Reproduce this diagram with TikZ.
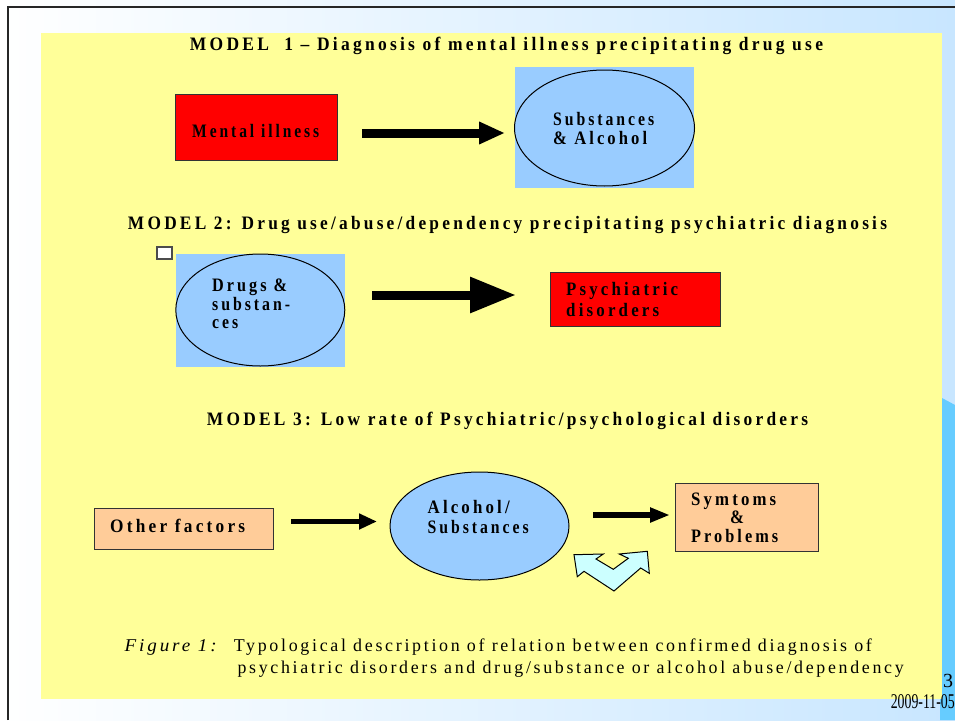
\documentclass[tikz,border=0pt]{standalone}
\usepackage{fontspec}
\usepackage{graphicx}
\setmainfont{Liberation Serif}
\newfontfamily\bt[FakeStretch=0.75,LetterSpace=14]{Liberation Serif}
\newfontfamily\ct[FakeStretch=0.8,LetterSpace=12]{Liberation Serif}
\newfontfamily\dt[FakeStretch=0.75]{Liberation Serif}
\usetikzlibrary{arrows.meta,shapes.geometric}
\newcommand\fitw[2]{\resizebox{#1pt}{\height}{#2}}
\definecolor{bgblue}{RGB}{200,230,255}
\definecolor{deepblue}{RGB}{102,204,255}
\definecolor{panel}{RGB}{255,255,153}
\definecolor{skyfill}{RGB}{153,204,255}
\definecolor{peach}{RGB}{255,204,153}
\definecolor{cyanfill}{RGB}{204,255,255}
\definecolor{redfill}{RGB}{255,0,0}
\tikzset{
  lbl/.style={anchor=base west, inner sep=0pt, font=\bt\bfseries\fontsize{19}{22}\selectfont},
  ttl/.style={anchor=base, inner sep=0pt, font=\bt\bfseries\fontsize{19}{22}\selectfont},
  captxt/.style={anchor=base west, inner sep=0pt, font=\ct\fontsize{18}{21}\selectfont},
  boxshape/.style={draw=black!80, line width=1pt, inner sep=0pt},
  ellshape/.style={ellipse, draw=black, line width=1pt, fill=skyfill, inner sep=0pt},
  blockarrow/.style n args={3}{draw=black, line width=#1pt, -{Triangle[length=#2pt,width=#3pt]}},
}
\begin{document}
\begin{tikzpicture}[x=1pt,y=-1pt]
\useasboundingbox (0,0) rectangle (955,720);
% background
\shade[left color=white, right color=bgblue] (0,0) rectangle (955,720);
\fill[deepblue] (942,398) -- (955,405) -- (955,720) -- (940,720) -- cycle;
\fill[panel] (41,33) rectangle (942,699);
\draw[line width=2pt, black!85] (8,720) -- (8,7) -- (955,7);

% titles
\node[ttl] (title1) at (506.5,50) {\fitw{633}{MODEL\ \ 1 – Diagnosis of mental illness precipitating drug use}};
\node[ttl] (title2) at (507.5,229) {\fitw{759}{MODEL 2: Drug use/abuse/dependency precipitating psychiatric diagnosis}};
\node[ttl] (title3) at (507.5,425) {\fitw{601}{MODEL 3: Low rate of Psychiatric/psychological disorders}};

% model 1
\node[boxshape, fill=redfill, minimum width=162pt, minimum height=66pt] (mental) at (256.6,127) {};
\node[lbl] (tmental) at (192,137) {\fitw{127}{Mental illness}};
\fill[skyfill] (515,67) rectangle (694,188);
\node[ellshape, minimum width=180pt, minimum height=116pt] (subs) at (604.5,128) {};
\node[lbl] (tsubs1) at (553,125) {\fitw{101}{Substances}};
\node[lbl] (tsubs2) at (553,144) {\fitw{94}{\& Alcohol}};
\coordinate (a1s) at (362,133);
\coordinate (a1e) at (505,133);
\draw[blockarrow={9}{26}{21}] (a1s) -- (a1e);

% model 2
\node[draw=black!70, line width=1.2pt, fill=white, minimum width=15pt, minimum height=12pt, inner sep=0pt] (sq) at (164.5,253) {};
\fill[skyfill] (176,254) rectangle (345,367);
\node[ellshape, minimum width=169pt, minimum height=112pt] (drugs) at (260.3,310) {};
\node[lbl] (tdrug1) at (212,291.5) {\fitw{75}{Drugs \&}};
\node[lbl] (tdrug2) at (212,310.5) {\fitw{78}{substan-}};
\node[lbl] (tdrug3) at (212,328.5) {\fitw{26}{ces}};
\node[boxshape, fill=redfill, minimum width=170pt, minimum height=54pt] (psych) at (635,299) {};
\node[lbl] (tpsych1) at (566,295) {\fitw{112}{Psychiatric}};
\node[lbl] (tpsych2) at (566,316) {\fitw{93}{disorders}};
\coordinate (a2s) at (372,295);
\coordinate (a2e) at (516,295);
\draw[blockarrow={9}{46}{34}] (a2s) -- (a2e);

% model 3
\node[boxshape, fill=peach, minimum width=178.5pt, minimum height=41pt] (other) at (183.75,528.5) {};
\node[lbl] (tother) at (110,532) {\fitw{135}{Other factors}};
\node[ellshape, minimum width=179pt, minimum height=108pt] (alc) at (479.5,526) {};
\node[lbl] (talc1) at (427.5,513) {\fitw{82}{Alcohol/}};
\node[lbl] (talc2) at (427.5,533) {\fitw{101}{Substances}};
\node[boxshape, fill=peach, minimum width=143pt, minimum height=68pt] (sym) at (746.5,517) {};
\node[lbl] (tsym1) at (691,505) {\fitw{85}{Symtoms}};
\node[lbl] (tsym2) at (730,523) {\fitw{14}{\&}};
\node[lbl] (tsym3) at (691,542) {\fitw{87}{Problems}};
\coordinate (a3s) at (291,521.5);
\coordinate (a3e) at (377,521.5);
\draw[blockarrow={5.5}{18}{15}] (a3s) -- (a3e);
\coordinate (a4s) at (593,515);
\coordinate (a4e) at (670,515);
\draw[blockarrow={6}{20}{14}] (a4s) -- (a4e);
% double arrow
\draw[fill=cyanfill, line width=1pt, line join=miter]
  (574,554.7) -- (603.3,554) -- (596,559) -- (613.3,569.3) -- (628.3,558.3)
  -- (619.3,554) -- (647.3,551.3) -- (649.3,573.3) -- (640.7,568)
  -- (614,591) -- (584,571.3) -- (577.3,576.7) -- cycle;

% caption
\node[captxt] (figlbl) at (124.5,651) {\fitw{92}{\itshape Figure 1:}};
\node[captxt] (cap1) at (233.6,651) {\fitw{638}{Typological description of relation between confirmed diagnosis of}};
\node[captxt] (cap2) at (237.4,673) {\fitw{666}{psychiatric disorders and drug/substance or alcohol abuse/dependency}};
\node[anchor=base west, inner sep=0pt, font=\fontsize{20}{23}\selectfont] (pgno) at (943,687) {3};
\node[anchor=base east, inner sep=0pt, font=\dt\fontsize{21}{24}\selectfont] (date) at (955,708) {\fitw{64}{2009-11-05}};
\end{tikzpicture}
\end{document}
